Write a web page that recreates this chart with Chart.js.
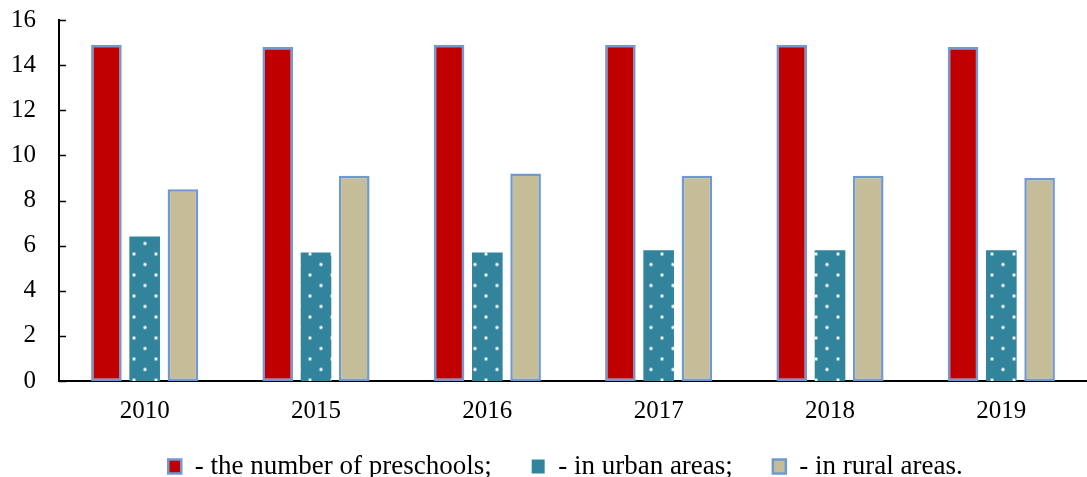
<!DOCTYPE html>
<html>
<head>
<meta charset="utf-8">
<script src="https://cdn.jsdelivr.net/npm/chart.js@4.4.0/dist/chart.umd.min.js"></script>
<style>
  html, body { margin: 0; padding: 0; background: #fff; overflow: hidden; }
  #wrap { width: 1087px; height: 477px; position: relative; }
</style>
</head>
<body>
<div id="wrap"><canvas id="preschoolChart"></canvas></div>
<script>
// data
var years = ["2010", "2015", "2016", "2017", "2018", "2019"];
var totalPreschools = [14.9, 14.8, 14.9, 14.9, 14.9, 14.8];
var urbanPreschools = [6.4, 5.7, 5.7, 5.8, 5.8, 5.8];
var ruralPreschools = [8.5, 9.1, 9.2, 9.1, 9.1, 9.0];
var seriesNames = ["- the number of preschools;", "- in urban areas;", "- in rural areas."];
var yTicks = [0, 2, 4, 6, 8, 10, 12, 14, 16];

var red = "#C00000";
var teal = "#31849B";
var tan = "#C4BD97";
var edge = "#6F99D3";

// dotted fill for the urban bars
function dotPattern() {
  var c = document.createElement("canvas");
  c.width = 22; c.height = 21;
  var g = c.getContext("2d");
  g.fillStyle = teal;
  g.fillRect(0, 0, 22, 21);
  [[2, 2], [13, 12.5]].forEach(function (p) {
    g.fillStyle = "rgba(255,255,255,0.35)";
    g.beginPath();
    g.arc(p[0], p[1], 2.2, 0, Math.PI * 2);
    g.fill();
    g.fillStyle = "#fff";
    g.beginPath();
    g.arc(p[0], p[1], 1.2, 0, Math.PI * 2);
    g.fill();
  });
  return g.createPattern(c, "repeat");
}

// y axis ticks point into the plot
var innerTicks = {
  id: "innerTicks",
  afterDraw: function (chart) {
    var y = chart.scales.y, ctx = chart.ctx;
    ctx.save();
    ctx.strokeStyle = "#000";
    ctx.lineWidth = 1.5;
    yTicks.forEach(function (v) {
      var py = Math.round(y.getPixelForValue(v)) + 0.5;
      ctx.beginPath();
      ctx.moveTo(y.right, py);
      ctx.lineTo(y.right + 7, py);
      ctx.stroke();
    });
    ctx.restore();
  }
};

// legend sits a bit higher and right of where chart.js puts it
var legendNudge = {
  id: "legendNudge",
  afterLayout: function (chart) {
    var lg = chart.legend;
    lg.top -= 14;
    lg.left += 22; lg.right += 22;
  }
};

var serif = "'Liberation Serif', 'Times New Roman', serif";

var ctx = document.getElementById("preschoolChart").getContext("2d");
var chart = new Chart(ctx, {
  type: "bar",
  data: {
    labels: years,
    datasets: [
      { label: seriesNames[0], data: totalPreschools, backgroundColor: red, borderColor: edge, borderWidth: 2.5, borderSkipped: false },
      { label: seriesNames[1], data: urbanPreschools, backgroundColor: dotPattern(), borderWidth: 0 },
      { label: seriesNames[2], data: ruralPreschools, backgroundColor: tan, borderColor: edge, borderWidth: 2.5, borderSkipped: false }
    ]
  },
  options: {
    responsive: true,
    maintainAspectRatio: false,
    animation: false,
    layout: { padding: 0 },
    datasets: { bar: { categoryPercentage: 0.67, barPercentage: 0.8 } },
    scales: {
      x: {
        grid: { display: false, drawTicks: false },
        border: { display: true, color: "#000", width: 2 },
        ticks: { color: "#000", font: { family: serif, size: 25 }, padding: 15 },
        afterFit: function (s) { s.height = 46; }
      },
      y: {
        min: 0, max: 16,
        grid: { display: false, drawTicks: false },
        border: { display: true, color: "#000", width: 2 },
        afterBuildTicks: function (s) { s.ticks = yTicks.map(function (v) { return { value: v }; }); },
        ticks: { color: "#000", font: { family: serif, size: 25 }, padding: 23 },
        afterFit: function (s) { s.width = 59; s.paddingTop = 20; s.paddingBottom = 0; }
      }
    },
    plugins: {
      tooltip: { enabled: false },
      legend: {
        position: "bottom",
        maxHeight: 50,
        labels: {
          color: "#000",
          font: { family: serif, size: 27 },
          boxWidth: 13,
          boxHeight: 14,
          padding: 40,
          generateLabels: function (ch) {
            var fills = [red, teal, tan];
            return ch.data.datasets.map(function (ds, i) {
              return {
                text: ds.label,
                fillStyle: fills[i],
                strokeStyle: i === 1 ? teal : edge,
                lineWidth: i === 1 ? 0 : 2.5,
                hidden: false,
                datasetIndex: i,
                fontColor: "#000"
              };
            });
          }
        }
      }
    }
  },
  plugins: [innerTicks, legendNudge]
});
</script>
</body>
</html>
